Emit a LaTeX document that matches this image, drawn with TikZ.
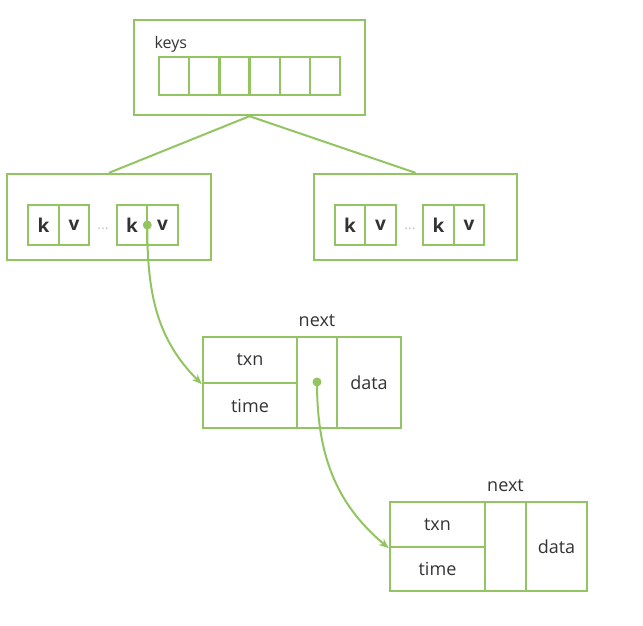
\documentclass[tikz,border=0pt]{standalone}
\usepackage{fontspec}
\setmainfont{Open Sans}
\usetikzlibrary{arrows.meta,positioning,calc}
\definecolor{leaf}{HTML}{93C462}
\definecolor{ink}{HTML}{333333}

\begin{document}
\begin{tikzpicture}[x=1pt,y=-1pt,
  box/.style={draw=leaf, line width=2.4pt, inner sep=0pt, font=\fontsize{18}{20}\selectfont, text=ink},
  keycell/.style={box, minimum width=30.2pt, minimum height=38pt},
  kvcell/.style={box, minimum width=30.5pt, minimum height=40pt, font=\fontsize{19}{20}\selectfont\bfseries},
  link/.style={draw=leaf, line width=2pt},
  ptr/.style={link, -{Stealth[length=10pt,width=8pt]}},
  dot/.style={circle, fill=leaf, inner sep=0pt, minimum size=9pt},
  lbl/.style={font=\fontsize{18}{20}\selectfont, text=ink}]
  \useasboundingbox (0,0) rectangle (643,625);
  % root node with key array
  \node[box, minimum width=231pt, minimum height=95pt] (root) at (249.5,67.5) {};
  \node[lbl, anchor=west, font=\fontsize{16}{16}\selectfont] (keys) at (151,44) {keys};
  \foreach \i in {0,...,5}
    \node[keycell] (key\i) at (174.1+30.2*\i,76) {};
  % leaf nodes
  \node[box, minimum width=204pt, minimum height=86pt] (leftn) at (109,217) {};
  \node[box, minimum width=203pt, minimum height=86pt] (rightn) at (415.5,217) {};
  \draw[link] (root.south) -- (leftn.north);
  \draw[link] (root.south) -- (rightn.north);
  \node[kvcell] (lk1) at (43.5,225) {k};
  \node[kvcell, right=-2.4pt of lk1] (lv1) {v};
  \node[kvcell] (lk2) at (132,225) {k};
  \node[kvcell, right=-2.4pt of lk2] (lv2) {v};
  \node[kvcell] (rk1) at (350,225) {k};
  \node[kvcell, right=-2.4pt of rk1] (rv1) {v};
  \node[kvcell] (rk2) at (438.5,225) {k};
  \node[kvcell, right=-2.4pt of rk2] (rv2) {v};
  \node[text=gray!50, font=\fontsize{14}{14}\selectfont] (ldots) at (103,229) {...};
  \node[text=gray!50, font=\fontsize{14}{14}\selectfont] (rdots) at (410,229) {...};
  \node[dot] (p1) at ($(lk2.east)!0.5!(lv2.west)$) {};
  % first version record
  \node[box, minimum width=94pt, minimum height=46pt] (txn1) at (250,360) {txn};
  \node[box, minimum width=94pt, minimum height=45pt] (time1) at (250,405.5) {time};
  \node[box, minimum width=40pt, minimum height=91pt] (next1) at (317,382.5) {};
  \node[box, minimum width=64pt, minimum height=91pt] (data1) at (369,382.5) {data};
  \node[lbl, above=6pt of next1] (nlbl1) {next};
  \node[dot] (p2) at (317,382) {};
  % second version record
  \node[box, minimum width=95pt, minimum height=45pt] (txn2) at (437.5,524.5) {txn};
  \node[box, minimum width=95pt, minimum height=44pt] (time2) at (437.5,569) {time};
  \node[box, minimum width=41pt, minimum height=89pt] (next2) at (505.5,546.5) {};
  \node[box, minimum width=61pt, minimum height=89pt] (data2) at (556.5,546.5) {data};
  \node[lbl, above=6pt of next2] (nlbl2) {next};
  % pointers
  \draw[ptr] (p1.center) to[out=-90, in=135] (txn1.south west);
  \draw[ptr] (p2.center) to[out=-90, in=140] (txn2.south west);
\end{tikzpicture}
\end{document}
